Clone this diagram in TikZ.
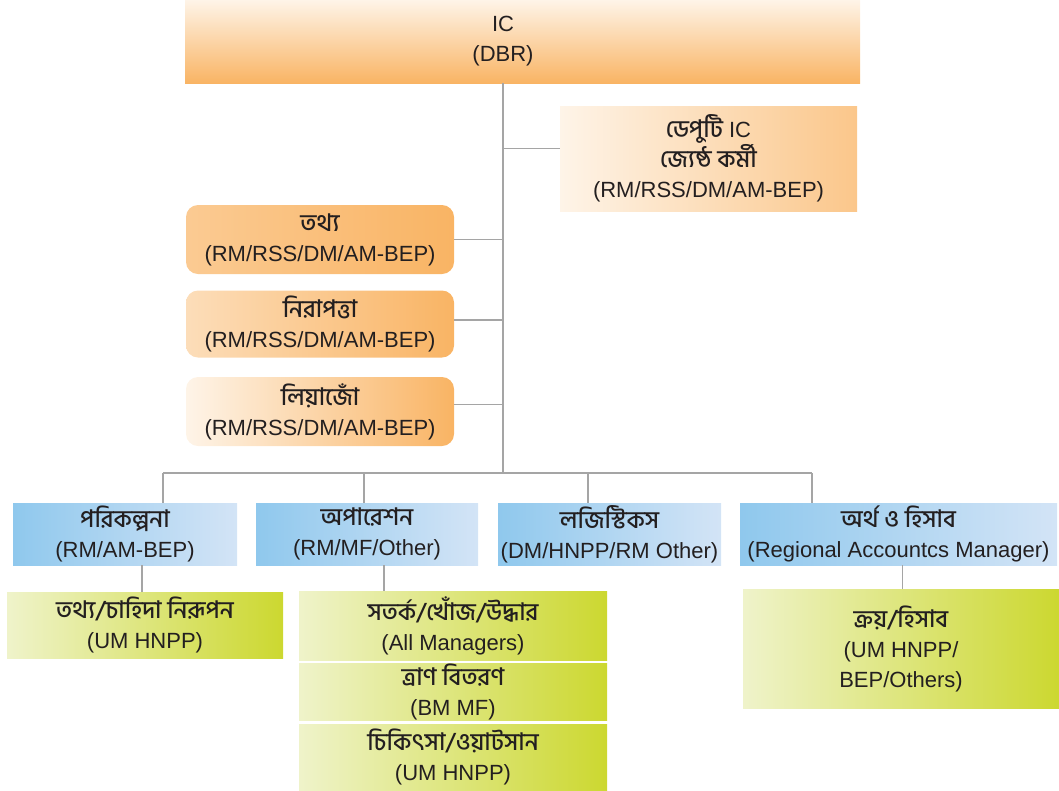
\documentclass[tikz,border=0pt]{standalone}
\usepackage{fontspec}
\setmainfont{Liberation Sans}
\newfontfamily\bn[Script=Bengali, Scale=1.1, UprightFont=* Medium]{Hind Siliguri}
\usetikzlibrary{positioning,calc}

\begin{document}
\begin{tikzpicture}[x=1pt, y=-1pt]
  % Colours
  \definecolor{orangedark}{RGB}{249,180,100}
  \definecolor{orangelight}{RGB}{254,244,232}
  \definecolor{bluedark}{RGB}{143,200,237}
  \definecolor{bluelight}{RGB}{211,228,246}
  \definecolor{greendark}{RGB}{204,216,48}
  \definecolor{greenlight}{RGB}{239,243,202}
  \definecolor{linegray}{RGB}{165,165,165}
  \definecolor{textcol}{RGB}{35,31,32}

  \useasboundingbox (0,0) rectangle (1059,790);

  \tikzset{
    txt/.style={inner sep=0pt, align=center, text=textcol, font=\fontsize{22}{30}\selectfont},
    box/.style={txt, draw=none},
    icbox/.style={box, top color=orangelight, bottom color=orangedark},
    depbox/.style={box, left color=orangelight, right color=orangedark!75!white},
    sidebox/.style={box, rounded corners=12pt, right color=orangedark},
    bluebox/.style={box, left color=bluedark, right color=bluelight},
    greenbox/.style={box, left color=greenlight, right color=greendark},
    conn/.style={draw=linegray, line width=1.6pt}
  }

  % --- Top: IC and deputy ---
  \node[icbox, minimum width=675pt, minimum height=83pt] (ic) at (522.5,41.5) {};
  \node[txt] (ictop) at (503,41.5) {IC\\(DBR)};
  \node[depbox, minimum width=297pt, minimum height=105pt] (dep) at (708.5,158.5)
    {{\bn ডেপুটি} IC\\{\bn জ্যেষ্ঠ কর্মী}\\(RM/RSS/DM/AM-BEP)};

  % --- Side boxes (left of trunk) ---
  \node[sidebox, left color=orangedark!70!white, minimum width=268pt, minimum height=69pt] (tathya) at (320,239.5)
    {{\bn তথ্য}\\(RM/RSS/DM/AM-BEP)};
  \node[sidebox, left color=orangedark!45!white, minimum width=268pt, minimum height=67pt] (nirapatta) at (320,324)
    {{\bn নিরাপত্তা}\\(RM/RSS/DM/AM-BEP)};
  \node[sidebox, left color=orangelight, minimum width=268pt, minimum height=69pt] (liaison) at (320,411.5)
    {{\bn লিয়াজোঁ}\\(RM/RSS/DM/AM-BEP)};

  % --- Second row ---
  \node[bluebox, minimum width=224pt, minimum height=62pt] (plan) at (125,534)
    {{\bn পরিকল্পনা}\\(RM/AM-BEP)};
  \node[bluebox, minimum width=222pt, minimum height=62pt] (ops) at (367,534)
    {{\bn অপারেশন}\\(RM/MF/Other)};
  \node[bluebox, minimum width=223pt, minimum height=62pt] (logi) at (609.5,534)
    {{\bn লজিস্টিকস}\\(DM/HNPP/RM Other)};
  \node[bluebox, minimum width=317pt, minimum height=62pt] (fin) at (898.5,534)
    {{\bn অর্থ ও হিসাব}\\(Regional Accountcs Manager)};

  % --- Third row ---
  \node[greenbox, minimum width=276pt, minimum height=66pt] (need) at (145,625)
    {{\bn তথ্য/চাহিদা নিরূপন}\\(UM HNPP)};
  \node[greenbox, minimum width=308pt, minimum height=69pt] (search) at (453,625.5)
    {{\bn সতর্ক/খোঁজ/উদ্ধার}\\(All Managers)};
  \node[greenbox, minimum width=308pt, minimum height=56pt] (relief) at (453,692)
    {{\bn ত্রাণ বিতরণ}\\(BM MF)};
  \node[greenbox, minimum width=308pt, minimum height=66pt] (medic) at (453,757)
    {{\bn চিকিৎসা/ওয়াটসান}\\(UM HNPP)};
  \node[greenbox, minimum width=316pt, minimum height=119pt] (buy) at (901,648.5)
    {{\bn ক্রয়/হিসাব}\\(UM HNPP/\\BEP/Others)};

  % --- Connectors ---
  \coordinate (b1) at (163,473);
  \coordinate (b2) at (364,473);
  \coordinate (b3) at (588,473);
  \coordinate (b4) at (812,473);
  \draw[conn] (ictop |- ic.south) -- (ictop |- b1);
  \draw[conn] ([yshift=10pt]dep.west) -- ([yshift=10pt]dep.west -| ictop);
  \draw[conn] (tathya.east) -- (tathya.east -| ictop);
  \draw[conn] ([yshift=4pt]nirapatta.east) -- ([yshift=4pt]nirapatta.east -| ictop);
  \draw[conn] ([yshift=7pt]liaison.east) -- ([yshift=7pt]liaison.east -| ictop);
  \draw[conn] (b1) -- (b4);
  \draw[conn] (b1) -- (b1 |- plan.north);
  \draw[conn] (b2) -- (b2 |- ops.north);
  \draw[conn] (b3) -- (b3 |- logi.north);
  \draw[conn] (b4) -- (b4 |- fin.north);
  \draw[conn] ([xshift=17pt]plan.south) -- ([xshift=17pt]plan.south |- need.north);
  \draw[conn] ([xshift=17pt]ops.south) -- ([xshift=17pt]ops.south |- search.north);
  \draw[conn] ([xshift=4pt]fin.south) -- ([xshift=4pt]fin.south |- buy.north);

\end{tikzpicture}
\end{document}
